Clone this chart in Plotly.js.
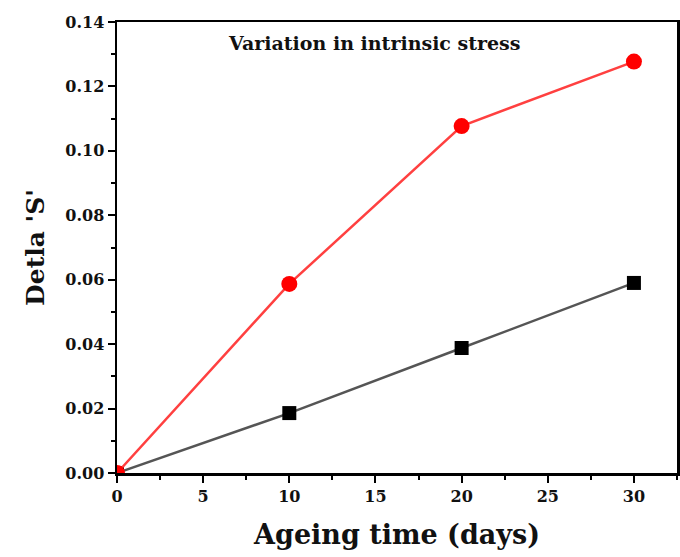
<!DOCTYPE html>
<html>
<head>
<meta charset="utf-8">
<script src="https://cdn.plot.ly/plotly-3.0.1.min.js"></script>
<style>html,body{margin:0;padding:0;background:#fff;}#chart{width:680px;height:557px;}</style>
</head>
<body>
<div id="chart"></div>
<script>
const ageingDays = [0, 10, 20, 30];
const deltaSRed = [0, 0.0587, 0.1077, 0.1277];
const deltaSBlack = [0, 0.0186, 0.0388, 0.059];
const xTickVals = [0, 5, 10, 15, 20, 25, 30];
const yTickVals = [0, 0.02, 0.04, 0.06, 0.08, 0.10, 0.12, 0.14];
const chartNote = "Variation in intrinsic stress";

const fontFam = "DejaVu Serif, Liberation Serif, serif";

const traces = [
  {
    x: ageingDays, y: deltaSBlack, type: 'scatter', mode: 'lines+markers',
    line: {color: '#555555', width: 2.5},
    marker: {symbol: 'square', size: 14, color: '#000000'},
    cliponaxis: true, showlegend: false
  },
  {
    x: ageingDays, y: deltaSRed, type: 'scatter', mode: 'lines+markers',
    line: {color: '#ff4040', width: 2.5},
    marker: {symbol: 'circle', size: 16, color: '#ff0000'},
    cliponaxis: true, showlegend: false
  }
];

const layout = {
  width: 680, height: 557,
  margin: {l: 117, r: 3, t: 22, b: 84},
  paper_bgcolor: '#ffffff', plot_bgcolor: '#ffffff',
  font: {family: fontFam, color: '#111111'},
  xaxis: {
    range: [0, 32.5], tickvals: xTickVals, ticktext: xTickVals.map(v => '<b>' + v + '</b>'),
    ticks: 'outside', ticklen: 7, tickwidth: 2, tickcolor: '#000',
    minor: {ticks: 'outside', ticklen: 4, tickwidth: 2, dtick: 2.5, tickcolor: '#000'},
    showline: true, linecolor: '#000', linewidth: 2.5, mirror: true,
    showgrid: false, zeroline: false,
    tickfont: {family: fontFam, size: 16, color: '#111'},
    title: {text: '<b>Ageing time (days)</b>', font: {family: fontFam, size: 27, color: '#111'}, standoff: 21}
  },
  yaxis: {
    range: [0, 0.14], tickvals: yTickVals, ticktext: yTickVals.map(v => '<b>' + v.toFixed(2) + '</b>'),
    ticks: 'outside', ticklen: 7, tickwidth: 2, tickcolor: '#000',
    minor: {ticks: 'outside', ticklen: 4, tickwidth: 2, dtick: 0.01, tickcolor: '#000'},
    showline: true, linecolor: '#000', linewidth: 2.5, mirror: true,
    showgrid: false, zeroline: false,
    tickfont: {family: fontFam, size: 16, color: '#111'},
    title: {text: "<b>Detla 'S'</b>", font: {family: fontFam, size: 25, color: '#111'}, standoff: 14}
  },
  annotations: [{
    text: '<b>' + chartNote + '</b>', xref: 'paper', yref: 'paper',
    x: 0.46, y: 0.953, xanchor: 'center', yanchor: 'middle', showarrow: false,
    font: {family: fontFam, size: 19, color: '#111'}
  }]
};

Plotly.newPlot('chart', traces, layout, {displayModeBar: false, staticPlot: true});
</script>
</body>
</html>
